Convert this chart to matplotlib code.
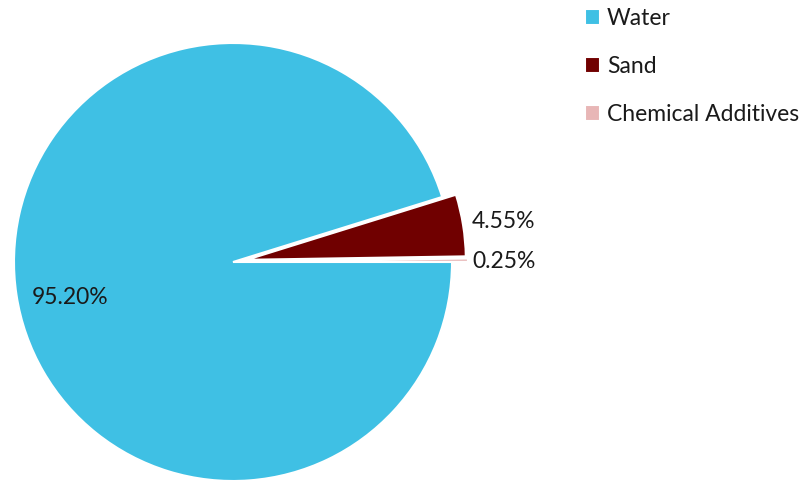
import matplotlib.pyplot as plt

labels = ["Water", "Sand", "Chemical Additives"]
shares = [95.20, 4.55, 0.25]
colors = ["#3FC0E4", "#700000", "#E8B6B6"]
# explode offsets are in data units (pixels here)
explode = [0.0, 14, 16]

plt.rcParams["font.family"] = ["Lato", "DejaVu Sans"]

fig = plt.figure(figsize=(8.12, 4.8), dpi=100)
ax = fig.add_axes([0, 0, 1, 1])

wedges, _ = ax.pie(
    shares, colors=colors, explode=explode, startangle=0, counterclock=False,
    radius=219, center=(233, 218), frame=True,
    wedgeprops=dict(edgecolor="white", linewidth=1.5),
)
ax.set_xlim(0, 812)
ax.set_ylim(0, 480)
ax.set_aspect("equal")
ax.axis("off")

# value labels
label_pos = [(32, 182), (472, 258), (472, 219)]
for (x, y), v in zip(label_pos, shares):
    ax.text(x, y, f"{v:.2f}%", fontsize=16.5, color="#1a1a1a", va="center", ha="left")

ax.legend(wedges, labels, loc="upper left", bbox_to_anchor=(585 / 812, 472 / 480),
          frameon=False, fontsize=16.5, handlelength=0.65, handleheight=0.65,
          handletextpad=0.3, labelspacing=1.18, borderaxespad=0.0, borderpad=0.0,
          labelcolor="#1a1a1a")

fig.savefig("out.png", dpi=100)
